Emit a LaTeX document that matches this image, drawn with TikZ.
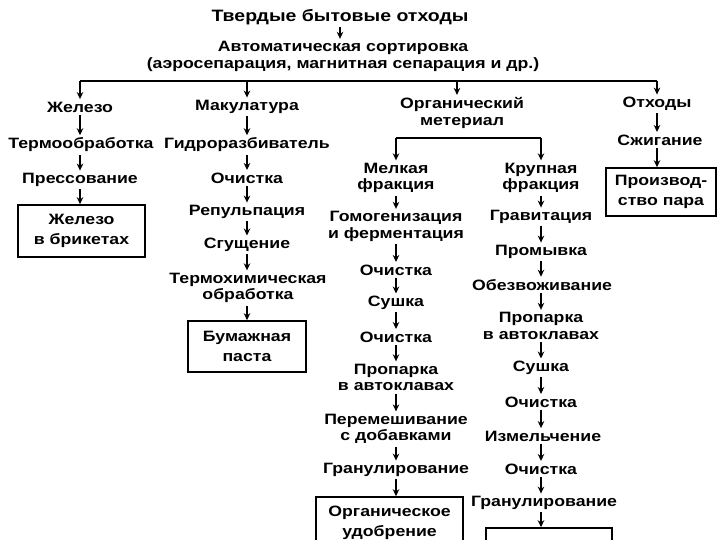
\documentclass[tikz,border=0pt]{standalone}
\usepackage{fontspec}
\setmainfont{Liberation Sans}[FakeStretch=1.18]
\usetikzlibrary{arrows.meta}
\begin{document}
\begin{tikzpicture}[x=1pt,y=-1pt,
  lbl/.style={font=\fontsize{15}{16.5}\selectfont\bfseries, align=center, inner xsep=0pt, inner ysep=2.5pt},
  arr/.style={line width=1.3pt, -{Stealth[length=7pt,width=6.5pt]}},
  bus/.style={line width=1.3pt},
  boxnode/.style={lbl, font=\fontsize{15}{19.5}\selectfont\bfseries, draw, line width=1.6pt, inner sep=0pt}]
\clip (0,0) rectangle (720,540);
\fill[white] (0,0) rectangle (720,540);

% top
\node[lbl, font=\fontsize{16.5}{18}\selectfont\bfseries] (tbo) at (340,17) {Твердые бытовые отходы};
\node[lbl] (auto) at (343,56.5) {Автоматическая сортировка\\(аэросепарация, магнитная сепарация и др.)};
\draw[arr] (tbo) -- (tbo |- auto.north);
\coordinate (bA) at (80,81);
\coordinate (bB) at (247,81);
\coordinate (bC) at (457,81);
\coordinate (bE) at (657,81);
\draw[bus] (bA) -- (bE);

% column A
\node[lbl] (zhel) at (80,107) {Железо};
\node[lbl] (termo) at (81,145) {Термообработка};
\node[lbl] (press) at (80,180) {Прессование};
\node[boxnode, minimum width=127pt, minimum height=52pt] (boxA) at (81.5,231) {Железо\\в брикетах};
\draw[arr] (bA) -- (zhel);
\draw[arr] (zhel) -- (zhel |- termo.north);
\draw[arr] (zhel |- termo.south) -- (press);
\draw[arr] (press) -- (press |- boxA.north);

% column B
\node[lbl] (mak) at (247,107) {Макулатура};
\node[lbl] (gidro) at (247,145) {Гидроразбиватель};
\node[lbl] (ochB) at (247,178) {Очистка};
\node[lbl] (rep) at (247,212) {Репульпация};
\node[lbl] (sgu) at (247,245) {Сгущение};
\node[lbl] (thim) at (248,288) {Термохимическая\\обработка};
\node[boxnode, minimum width=118pt, minimum height=51pt] (boxB) at (247,346.5) {Бумажная\\паста};
\draw[arr] (bB) -- (mak);
\draw[arr] (mak) -- (gidro);
\draw[arr] (gidro) -- (ochB);
\draw[arr] (ochB) -- (rep);
\draw[arr] (rep) -- (sgu);
\draw[arr] (sgu) -- (sgu |- thim.north);
\draw[arr] (sgu |- thim.south) -- (sgu |- boxB.north);

% organic
\node[lbl] (org) at (462,113) {Органический\\метериал};
\draw[arr] (bC) -- (bC |- org.north);
\coordinate (cL) at (396,138);
\coordinate (cR) at (541,138);
\draw[bus] (cL) -- (cR);

% column C
\node[lbl] (melk) at (396,178) {Мелкая\\фракция};
\node[lbl] (gomo) at (396,226.5) {Гомогенизация\\и ферментация};
\node[lbl] (ochC1) at (396,270) {Очистка};
\node[lbl] (sush) at (396,303) {Сушка};
\node[lbl] (ochC2) at (396,337) {Очистка};
\node[lbl] (propC) at (396,377.5) {Пропарка\\в автоклавах};
\node[lbl] (perem) at (396,429) {Перемешивание\\с добавками};
\node[lbl] (granC) at (396,470) {Гранулирование};
\node[boxnode, minimum width=147pt, minimum height=52pt] (boxC) at (389.5,523) {Органическое\\удобрение};
\draw[arr] (cL) -- (melk);
\draw[arr] (melk) -- (gomo);
\draw[arr] (gomo) -- (ochC1);
\draw[arr] (ochC1) -- (sush);
\draw[arr] (sush) -- (ochC2);
\draw[arr] (ochC2) -- (propC);
\draw[arr] (propC) -- (perem);
\draw[arr] (perem) -- (granC);
\draw[arr] (granC) -- (granC |- boxC.north);

% column D
\node[lbl] (krup) at (541,178) {Крупная\\фракция};
\node[lbl] (grav) at (541,217) {Гравитация};
\node[lbl] (prom) at (541,252) {Промывка};
\node[lbl] (obez) at (542,285) {Обезвоживание};
\node[lbl] (propD) at (541,326) {Пропарка\\в автоклавах};
\node[lbl] (sushD) at (541,368) {Сушка};
\node[lbl] (ochD1) at (541,402) {Очистка};
\node[lbl] (izm) at (543,436) {Измельчение};
\node[lbl] (ochD2) at (541,469) {Очистка};
\node[lbl] (granD) at (544,503) {Гранулирование};
\node[boxnode, minimum width=126pt, minimum height=64pt] (boxD) at (549,560) {};
\draw[arr] (cR) -- (krup);
\draw[arr] (krup) -- (grav);
\draw[arr] (grav) -- (prom);
\draw[arr] (prom) -- (prom |- obez.north);
\draw[arr] (prom |- obez.south) -- (propD);
\draw[arr] (propD) -- (sushD);
\draw[arr] (sushD) -- (ochD1);
\draw[arr] (ochD1) -- (ochD1 |- izm.north);
\draw[arr] (ochD1 |- izm.south) -- (ochD2);
\draw[arr] (ochD2) -- (ochD2 |- granD.north);
\draw[arr] (ochD2 |- granD.south) -- (ochD2 |- boxD.north);

% column E
\node[lbl] (oth) at (657,104) {Отходы};
\node[lbl] (szh) at (660,140) {Сжигание};
\node[boxnode, minimum width=110pt, minimum height=48pt] (boxE) at (661,192) {Производ-\\ство пара};
\draw[arr] (bE) -- (oth);
\draw[arr] (oth) -- (oth |- szh.north);
\draw[arr] (oth |- szh.south) -- (oth |- boxE.north);
\end{tikzpicture}
\end{document}
